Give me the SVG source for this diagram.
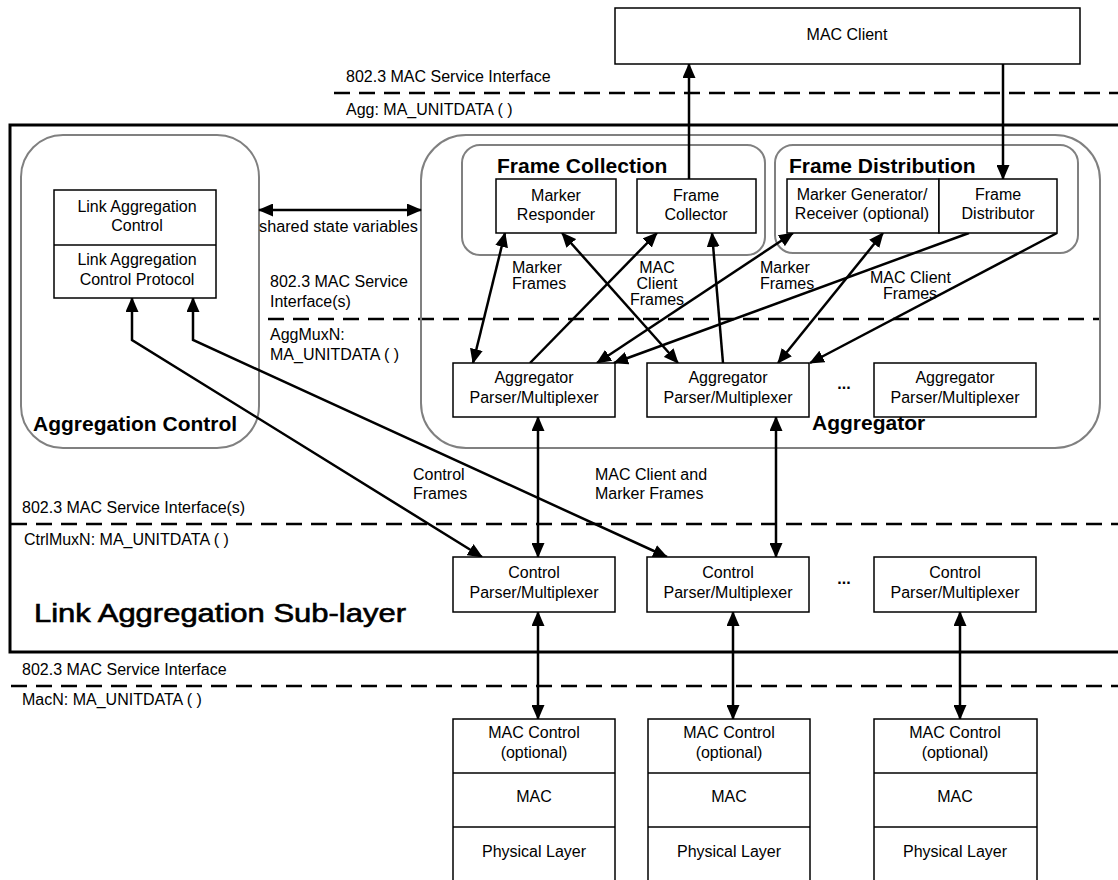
<svg xmlns="http://www.w3.org/2000/svg" width="1118" height="880" viewBox="0 0 1118 880">
  <defs>
    <marker id="ah" viewBox="0 0 15 13" markerWidth="15" markerHeight="13" refX="14" refY="6.5" orient="auto-start-reverse" markerUnits="userSpaceOnUse">
      <path d="M0,0 L15,6.5 L0,13 z" fill="#000"/>
    </marker>
  </defs>
  <style>
    .t{font-family:"Liberation Sans",Arial,sans-serif;font-size:16px;fill:#000}
    .c{text-anchor:middle}
    .b{font-weight:bold;font-size:21px}
    .big{font-size:25px;stroke:#000;stroke-width:0.6}
    .box{fill:#fff;stroke:#000;stroke-width:1.5}
    .grp{fill:none;stroke:#808080;stroke-width:2}
    .dash{fill:none;stroke:#000;stroke-width:2.5;stroke-dasharray:16 9}
    .ln{fill:none;stroke:#000;stroke-width:2.5}
    .a1{marker-end:url(#ah)}
    .a2{marker-start:url(#ah);marker-end:url(#ah)}
  </style>

  <rect x="0" y="0" width="1118" height="880" fill="#fff"/>

  <!-- sub-layer frame -->
  <g id="sublayer">
    <rect x="10" y="125" width="1120" height="527" fill="none" stroke="#000" stroke-width="3"/>
    <text class="t big" x="34" y="622" textLength="372" lengthAdjust="spacingAndGlyphs">Link Aggregation Sub-layer</text>
  </g>

  <!-- service interface boundaries -->
  <g id="interfaces">
    <line class="dash" x1="334" y1="93" x2="1118" y2="93"/>
    <line class="dash" x1="268" y1="319" x2="1100" y2="319"/>
    <line class="dash" x1="11" y1="524" x2="1118" y2="524"/>
    <line class="dash" x1="11" y1="686" x2="1118" y2="686"/>
    <text class="t" x="346" y="82">802.3 MAC Service Interface</text>
    <text class="t" x="346" y="115">Agg: MA_UNITDATA ( )</text>
    <text class="t" x="270" y="287">802.3 MAC Service</text>
    <text class="t" x="270" y="307">Interface(s)</text>
    <text class="t" x="270" y="340">AggMuxN:</text>
    <text class="t" x="270" y="360">MA_UNITDATA ( )</text>
    <text class="t" x="22" y="513">802.3 MAC Service Interface(s)</text>
    <text class="t" x="24" y="545">CtrlMuxN: MA_UNITDATA ( )</text>
    <text class="t" x="22" y="675">802.3 MAC Service Interface</text>
    <text class="t" x="22" y="705">MacN: MA_UNITDATA ( )</text>
  </g>

  <!-- grouping boxes -->
  <g id="aggregation-control">
    <rect class="grp" x="21" y="135" width="238" height="313" rx="42"/>
    <text class="t b" x="33" y="431">Aggregation Control</text>
  </g>
  <g id="aggregator">
    <rect class="grp" x="421" y="135" width="679" height="313" rx="45"/>
    <text class="t b" x="812" y="430">Aggregator</text>
  </g>
  <g id="frame-collection">
    <rect class="grp" x="462" y="145" width="303" height="110" rx="18"/>
    <text class="t b" x="497" y="173">Frame Collection</text>
  </g>
  <g id="frame-distribution">
    <rect class="grp" x="775" y="145" width="303" height="108" rx="18"/>
    <text class="t b" x="789" y="173">Frame Distribution</text>
  </g>

  <!-- connectors -->
  <g id="connectors">
    <line class="ln a1" x1="689" y1="179" x2="689" y2="64"/>
    <line class="ln a1" x1="1003" y1="64" x2="1003" y2="179"/>
    <line class="ln a2" x1="259" y1="210" x2="421" y2="210"/>
    <line class="ln a2" x1="505" y1="233" x2="473" y2="363"/>
    <line class="ln a1" x1="530" y1="363" x2="657" y2="233"/>
    <line class="ln a2" x1="562" y1="233" x2="678" y2="363"/>
    <line class="ln a1" x1="723" y1="363" x2="712" y2="233"/>
    <line class="ln a2" x1="793" y1="233" x2="597" y2="363"/>
    <line class="ln a1" x1="969" y1="233" x2="614" y2="363"/>
    <line class="ln a2" x1="883" y1="233" x2="778" y2="363"/>
    <line class="ln a1" x1="1057" y1="233" x2="810" y2="363"/>
    <line class="ln a2" x1="538" y1="417" x2="538" y2="557"/>
    <line class="ln a2" x1="776" y1="417" x2="776" y2="557"/>
    <line class="ln a2" x1="538" y1="612" x2="538" y2="719"/>
    <line class="ln a2" x1="733" y1="612" x2="733" y2="719"/>
    <line class="ln a2" x1="960" y1="612" x2="960" y2="719"/>
    <polyline class="ln a2" points="132,298 132,340 482,557"/>
    <polyline class="ln a2" points="193,298 193,340 667,557"/>
    <text class="t" x="259" y="232" textLength="159" lengthAdjust="spacingAndGlyphs">shared state variables</text>
    <text class="t" x="512" y="273">Marker</text>
    <text class="t" x="512" y="289">Frames</text>
    <text class="t c" x="657" y="273">MAC</text>
    <text class="t c" x="657" y="289">Client</text>
    <text class="t c" x="657" y="305">Frames</text>
    <text class="t" x="760" y="273">Marker</text>
    <text class="t" x="760" y="289">Frames</text>
    <text class="t" x="870" y="283">MAC Client</text>
    <text class="t c" x="910" y="299">Frames</text>
    <text class="t" x="413" y="480">Control</text>
    <text class="t" x="413" y="499">Frames</text>
    <text class="t" x="595" y="480">MAC Client and</text>
    <text class="t" x="595" y="499">Marker Frames</text>
  </g>

  <!-- nodes -->
  <g id="mac-client">
    <rect class="box" x="615" y="8" width="465" height="56"/>
    <text class="t c" x="847" y="40">MAC Client</text>
  </g>
  <g id="link-aggregation-control">
    <rect class="box" x="54" y="190" width="162" height="108"/>
    <line x1="54" y1="245" x2="216" y2="245" stroke="#000" stroke-width="1.5"/>
    <text class="t c" x="137" y="212">Link Aggregation</text>
    <text class="t c" x="137" y="231">Control</text>
    <text class="t c" x="137" y="265">Link Aggregation</text>
    <text class="t c" x="137" y="285">Control Protocol</text>
  </g>
  <g id="marker-responder">
    <rect class="box" x="496" y="179" width="120" height="54"/>
    <text class="t c" x="556" y="201">Marker</text>
    <text class="t c" x="556" y="220">Responder</text>
  </g>
  <g id="frame-collector">
    <rect class="box" x="637" y="179" width="119" height="54"/>
    <text class="t c" x="696" y="201">Frame</text>
    <text class="t c" x="696" y="220">Collector</text>
  </g>
  <g id="marker-generator">
    <rect class="box" x="787" y="179" width="152" height="54"/>
    <text class="t c" x="862" y="200">Marker Generator/</text>
    <text class="t c" x="862" y="219">Receiver (optional)</text>
  </g>
  <g id="frame-distributor">
    <rect class="box" x="939" y="179" width="118" height="54"/>
    <text class="t c" x="998" y="200">Frame</text>
    <text class="t c" x="998" y="219">Distributor</text>
  </g>
  <g id="agg-parser-1">
    <rect class="box" x="453" y="363" width="162" height="54"/>
    <text class="t c" x="534" y="383">Aggregator</text>
    <text class="t c" x="534" y="403">Parser/Multiplexer</text>
  </g>
  <g id="agg-parser-2">
    <rect class="box" x="647" y="363" width="162" height="54"/>
    <text class="t c" x="728" y="383">Aggregator</text>
    <text class="t c" x="728" y="403">Parser/Multiplexer</text>
  </g>
  <g id="agg-parser-more">
    <text class="t c" x="844" y="389" font-weight="bold">...</text>
  </g>
  <g id="agg-parser-n">
    <rect class="box" x="874" y="363" width="162" height="54"/>
    <text class="t c" x="955" y="383">Aggregator</text>
    <text class="t c" x="955" y="403">Parser/Multiplexer</text>
  </g>
  <g id="ctrl-parser-1">
    <rect class="box" x="453" y="557" width="162" height="55"/>
    <text class="t c" x="534" y="578">Control</text>
    <text class="t c" x="534" y="598">Parser/Multiplexer</text>
  </g>
  <g id="ctrl-parser-2">
    <rect class="box" x="647" y="557" width="162" height="55"/>
    <text class="t c" x="728" y="578">Control</text>
    <text class="t c" x="728" y="598">Parser/Multiplexer</text>
  </g>
  <g id="ctrl-parser-more">
    <text class="t c" x="844" y="584" font-weight="bold">...</text>
  </g>
  <g id="ctrl-parser-n">
    <rect class="box" x="874" y="557" width="162" height="55"/>
    <text class="t c" x="955" y="578">Control</text>
    <text class="t c" x="955" y="598">Parser/Multiplexer</text>
  </g>
  <g id="mac-stack-1">
    <rect class="box" x="453" y="719" width="162" height="165"/>
    <line x1="453" y1="773" x2="615" y2="773" stroke="#000" stroke-width="1.5"/>
    <line x1="453" y1="827" x2="615" y2="827" stroke="#000" stroke-width="1.5"/>
    <text class="t c" x="534" y="738">MAC Control</text>
    <text class="t c" x="534" y="758">(optional)</text>
    <text class="t c" x="534" y="802">MAC</text>
    <text class="t c" x="534" y="857">Physical Layer</text>
  </g>
  <g id="mac-stack-2">
    <rect class="box" x="648" y="719" width="162" height="165"/>
    <line x1="648" y1="773" x2="810" y2="773" stroke="#000" stroke-width="1.5"/>
    <line x1="648" y1="827" x2="810" y2="827" stroke="#000" stroke-width="1.5"/>
    <text class="t c" x="729" y="738">MAC Control</text>
    <text class="t c" x="729" y="758">(optional)</text>
    <text class="t c" x="729" y="802">MAC</text>
    <text class="t c" x="729" y="857">Physical Layer</text>
  </g>
  <g id="mac-stack-n">
    <rect class="box" x="874" y="719" width="163" height="165"/>
    <line x1="874" y1="773" x2="1037" y2="773" stroke="#000" stroke-width="1.5"/>
    <line x1="874" y1="827" x2="1037" y2="827" stroke="#000" stroke-width="1.5"/>
    <text class="t c" x="955" y="738">MAC Control</text>
    <text class="t c" x="955" y="758">(optional)</text>
    <text class="t c" x="955" y="802">MAC</text>
    <text class="t c" x="955" y="857">Physical Layer</text>
  </g>
</svg>
